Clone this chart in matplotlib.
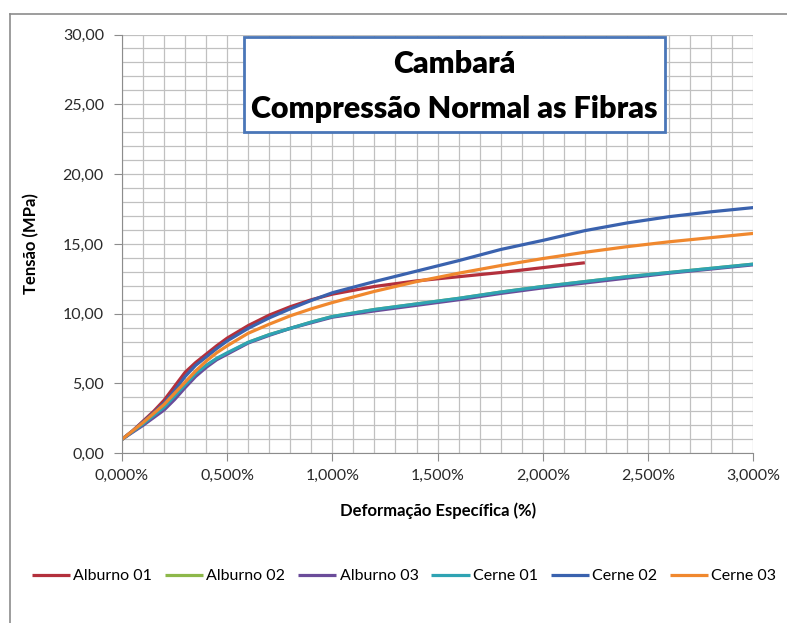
import matplotlib
matplotlib.use("Agg")
import matplotlib.pyplot as plt
from matplotlib.patches import Rectangle
from matplotlib.lines import Line2D
from matplotlib.ticker import MultipleLocator, FuncFormatter

plt.rcParams['font.family'] = ['Lato', 'DejaVu Sans']

# deformação específica (%) e tensão (MPa)
strain = [0.0, 0.05, 0.1, 0.15, 0.2, 0.25, 0.3, 0.35, 0.4, 0.45, 0.5, 0.6,
          0.7, 0.8, 0.9, 1.0, 1.2, 1.4, 1.6, 1.8, 2.0, 2.2, 2.4, 2.6, 2.8, 3.0]

alburno01 = [1.0, 1.6, 2.3, 3.0, 3.8, 4.8, 5.8, 6.5, 7.1, 7.7, 8.25, 9.15,
             9.9, 10.5, 11.0, 11.4, 11.95, 12.35, 12.65, 12.95, 13.3, 13.65]
alburno02 = [1.0, 1.55, 2.05, 2.65, 3.25, 4.0, 4.85, 5.6, 6.25, 6.75, 7.15,
             7.95, 8.5, 8.95, 9.4, 9.8, 10.3, 10.7, 11.1, 11.55, 11.95,
             12.3, 12.65, 12.95, 13.25, 13.55]
alburno03 = [1.0, 1.5, 2.0, 2.55, 3.1, 3.85, 4.7, 5.5, 6.15, 6.7, 7.1, 7.9,
             8.45, 8.95, 9.35, 9.75, 10.2, 10.6, 11.0, 11.45, 11.85, 12.2,
             12.55, 12.9, 13.2, 13.5]
cerne01 = [1.0, 1.55, 2.1, 2.7, 3.3, 4.1, 4.9, 5.7, 6.3, 6.8, 7.2, 7.95,
           8.5, 8.95, 9.4, 9.8, 10.3, 10.7, 11.1, 11.55, 11.95, 12.3,
           12.65, 12.95, 13.25, 13.55]
cerne02 = [1.0, 1.6, 2.25, 2.9, 3.6, 4.5, 5.5, 6.3, 6.9, 7.5, 8.05, 8.95,
           9.7, 10.35, 10.95, 11.5, 12.3, 13.05, 13.8, 14.6, 15.25, 15.95,
           16.5, 16.95, 17.3, 17.6]
cerne03 = [1.0, 1.6, 2.2, 2.85, 3.5, 4.3, 5.1, 5.9, 6.6, 7.2, 7.7, 8.6,
           9.25, 9.85, 10.35, 10.8, 11.6, 12.3, 12.9, 13.45, 13.95, 14.4,
           14.8, 15.15, 15.45, 15.75]

names = ["Alburno 01", "Alburno 02", "Alburno 03", "Cerne 01", "Cerne 02", "Cerne 03"]
series = [alburno01, alburno02, alburno03, cerne01, cerne02, cerne03]
colors = ["#B3303C", "#8DB84A", "#6B4C9A", "#2FA3B3", "#3A62AE", "#F0882E"]

fig = plt.figure(figsize=(7.87, 6.23), dpi=100)
ax = fig.add_axes([0.155, 0.2724, 0.802, 0.6722])

for name, vals, col in zip(names, series, colors):
    ax.plot(strain[:len(vals)], vals, color=col, lw=2.3, label=name,
            solid_capstyle='butt', solid_joinstyle='round')

ax.set_xlim(0, 3)
ax.set_ylim(0, 30)
ax.xaxis.set_major_locator(MultipleLocator(0.5))
ax.xaxis.set_minor_locator(MultipleLocator(0.1))
ax.yaxis.set_major_locator(MultipleLocator(5))
ax.yaxis.set_minor_locator(MultipleLocator(1))
ax.xaxis.set_major_formatter(FuncFormatter(lambda v, p: ("%.3f%%" % v).replace(".", ",")))
ax.yaxis.set_major_formatter(FuncFormatter(lambda v, p: ("%.2f" % v).replace(".", ",")))

ax.grid(True, which='both', color='#C0C0C0', lw=0.9)
ax.set_axisbelow(True)
for s in ['top', 'right']:
    ax.spines[s].set_visible(False)
for s in ['left', 'bottom']:
    ax.spines[s].set_color('#8C8C8C')
ax.tick_params(which='major', length=6, color='#8C8C8C', labelsize=11.5,
               labelcolor='#2A2A2A')
ax.tick_params(which='minor', length=0)
ax.tick_params(axis='x', pad=5)
ax.tick_params(axis='y', pad=7)

ax.set_xlabel("Deformação Específica (%)", fontsize=12, fontweight='bold', labelpad=14)
ax.set_ylabel("Tensão (MPa)", fontsize=12, fontweight='bold', labelpad=17)

# caixa do título
fig.add_artist(Rectangle((244 / 787, 1 - 132 / 623), 421 / 787, 95 / 623,
                         transform=fig.transFigure, facecolor='white',
                         edgecolor='#4A76B8', lw=2, zorder=3))
fig.text(454 / 787, 1 - 64 / 623, "Cambará", ha='center', va='center',
         fontsize=22, fontweight='heavy', zorder=4)
fig.text(454 / 787, 1 - 109 / 623, "Compressão Normal as Fibras", ha='center',
         va='center', fontsize=22, fontweight='heavy', zorder=4)

# borda externa do gráfico
fig.add_artist(Line2D([10 / 787, 10 / 787], [0, 1 - 14 / 623],
                      transform=fig.transFigure, color='#8C8C8C', lw=1.2))
fig.add_artist(Line2D([10 / 787, 1], [1 - 14 / 623, 1 - 14 / 623],
                      transform=fig.transFigure, color='#8C8C8C', lw=1.2))

fig.legend(loc='center', bbox_to_anchor=(404 / 787, 1 - 576 / 623), ncol=6,
           frameon=False, fontsize=11.5, handlelength=2.4, handletextpad=0.2,
           columnspacing=0.8)

fig.savefig("out.png", dpi=100)
